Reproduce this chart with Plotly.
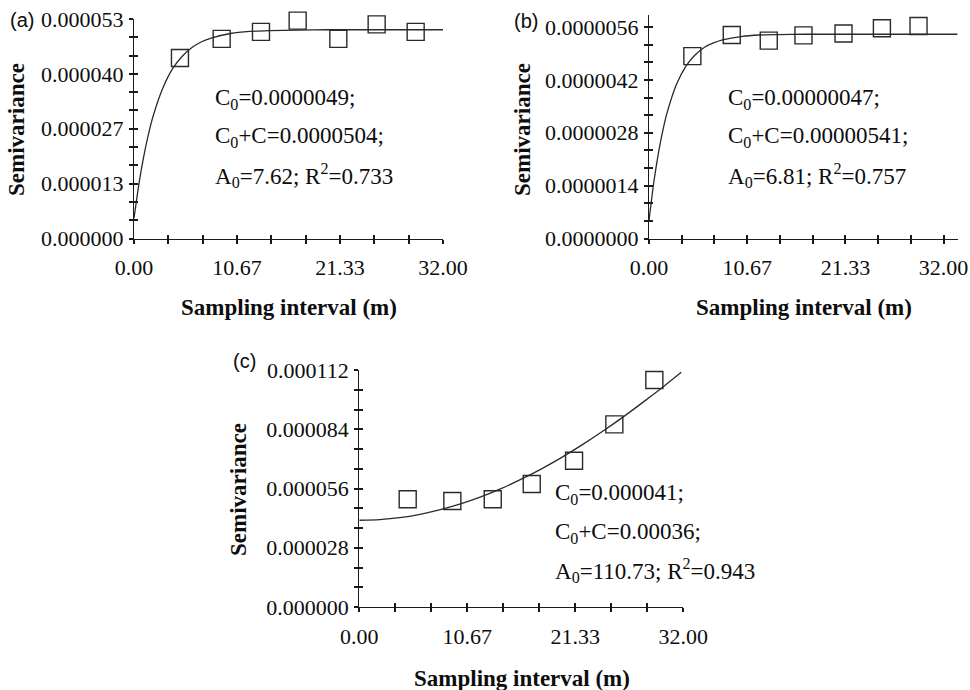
import plotly.graph_objects as go
import numpy as np

# ---------------- data ----------------
# Panel (a)
lag_a = [4.76, 9.08, 13.15, 16.95, 21.16, 25.13, 29.17]
gamma_a = [43.6e-6, 48.2e-6, 49.9e-6, 52.6e-6, 48.2e-6, 51.7e-6, 49.9e-6]
fit_h_a = [0, 0.5, 1, 1.5, 2, 3, 4, 5, 6, 7, 8, 10, 12, 14, 17, 20, 25, 32]
fit_g_a = [4.9e-6, 13.0e-6, 19.7e-6, 25.2e-6, 29.7e-6, 36.4e-6, 41.0e-6, 44.0e-6, 46.1e-6,
           47.5e-6, 48.4e-6, 49.5e-6, 50.0e-6, 50.2e-6, 50.3e-6, 50.4e-6, 50.4e-6, 50.4e-6]
text_a = ["C<sub>0</sub>=0.0000049;", "C<sub>0</sub>+C=0.0000504;", "A<sub>0</sub>=7.62; R<sup>2</sup>=0.733"]
yticks_a = ["0.000000", "0.000013", "0.000027", "0.000040", "0.000053"]

# Panel (b)
lag_b = [4.71, 8.99, 13.01, 16.78, 21.13, 25.30, 29.28]
gamma_b = [4.83e-6, 5.39e-6, 5.24e-6, 5.38e-6, 5.43e-6, 5.57e-6, 5.63e-6]
fit_h_b = [0, 0.5, 1, 1.5, 2, 3, 4, 5, 6, 7, 8, 10, 12, 14, 17, 20, 25, 33.5]
fit_g_b = [0.47e-6, 1.45e-6, 2.23e-6, 2.86e-6, 3.36e-6, 4.09e-6, 4.56e-6, 4.86e-6, 5.06e-6,
           5.18e-6, 5.26e-6, 5.35e-6, 5.39e-6, 5.40e-6, 5.41e-6, 5.41e-6, 5.41e-6, 5.41e-6]
text_b = ["C<sub>0</sub>=0.00000047;", "C<sub>0</sub>+C=0.00000541;", "A<sub>0</sub>=6.81; R<sup>2</sup>=0.757"]
yticks_b = ["0.0000000", "0.0000014", "0.0000028", "0.0000042", "0.0000056"]

# Panel (c)
lag_c = [4.78, 9.19, 13.18, 17.03, 21.21, 25.19, 29.14]
gamma_c = [50.9e-6, 50.1e-6, 50.9e-6, 58.1e-6, 69.1e-6, 86.3e-6, 107.3e-6]
fit_h_c = [0, 2, 4, 6, 8, 10, 12, 14, 16, 18, 20, 22, 24, 26, 28, 30, 31.8]
fit_g_c = [41.0e-6, 41.3e-6, 42.2e-6, 43.8e-6, 46.0e-6, 48.7e-6, 52.0e-6, 55.9e-6, 60.4e-6,
           65.3e-6, 70.7e-6, 76.6e-6, 82.9e-6, 89.6e-6, 96.7e-6, 104.0e-6, 110.9e-6]
text_c = ["C<sub>0</sub>=0.000041;", "C<sub>0</sub>+C=0.00036;", "A<sub>0</sub>=110.73; R<sup>2</sup>=0.943"]
yticks_c = ["0.000000", "0.000028", "0.000056", "0.000084", "0.000112"]

xticks = ["0.00", "10.67", "21.33", "32.00"]
panel_labels = ["(a)", "(b)", "(c)"]
x_title = "Sampling interval (m)"
y_title = "Semivariance"

# ---------------- layout geometry ----------------
W, H = 970, 690
def px(p):
    return p / W
def py(p):
    return 1 - p / H

SERIF = "Liberation Serif, Times New Roman, serif"
INK = "#1a1a1a"
TXT = "#0d0d0d"

panels = [
    dict(lag=lag_a, g=gamma_a, fh=fit_h_a, fg=fit_g_a, txt=text_a, ytl=yticks_a, ymaj=53e-6,
         xr=[0, 32], yr=[0, 53e-6], xd=[134, 443], yd=[19, 238.5],
         txt_x=213, txt_y=[99, 137, 176], ytitle=(17, 130), xtitle=(288.5, 308), lab=(8, 20)),
    dict(lag=lag_b, g=gamma_b, fh=fit_h_b, fg=fit_g_b, txt=text_b, ytl=yticks_b, ymaj=5.6e-6,
         xr=[0, 33.6], yr=[0, 5.92e-6], xd=[649, 958.3], yd=[15, 238.5],
         txt_x=726, txt_y=[99, 137, 176], ytitle=(523, 130), xtitle=(803.5, 308), lab=(512, 21)),
    dict(lag=lag_c, g=gamma_c, fh=fit_h_c, fg=fit_g_c, txt=text_c, ytl=yticks_c, ymaj=112e-6,
         xr=[0, 32], yr=[0, 112e-6], xd=[359.3, 683.3], yd=[370, 607],
         txt_x=553, txt_y=[494, 532.5, 570], ytitle=(238, 490), xtitle=(521.5, 678), lab=(231, 361)),
]

fig = go.Figure()
layout = dict(width=W, height=H, margin=dict(l=0, r=0, t=0, b=0, pad=0, autoexpand=False),
              paper_bgcolor="white", plot_bgcolor="rgba(0,0,0,0)", showlegend=False)
annotations = []

common = dict(showgrid=False, zeroline=False, fixedrange=True, ticklen=4, tickwidth=1.5,
              tickcolor=INK, tickmode="array", automargin=False)

for i, p in enumerate(panels):
    n = i + 1
    ov = i + 4
    xs = "" if n == 1 else str(n)
    xref, yref = "x" + xs, "y" + xs
    xov, yov = "x" + str(ov), "y" + str(ov)

    fig.add_trace(go.Scatter(x=p["fh"], y=p["fg"], mode="lines", xaxis=xref, yaxis=yref,
                             line=dict(color="#2a2a2a", width=1.3, shape="spline", smoothing=0.6),
                             hoverinfo="skip", cliponaxis=False))
    fig.add_trace(go.Scatter(x=p["lag"], y=p["g"], mode="markers", xaxis=xref, yaxis=yref,
                             cliponaxis=False,
                             marker=dict(symbol="square-open", size=17, color="#2a2a2a",
                                         line=dict(width=1.4, color="#2a2a2a"))))
    # empty trace so the overlay axes (inner half of the crossing ticks) get drawn
    fig.add_trace(go.Scatter(x=[None], y=[None], mode="markers", xaxis=xov, yaxis=yov,
                             hoverinfo="skip", showlegend=False))

    # ticks: 9 intervals on x (labels every 3rd), 12 intervals on y (labels every 3rd)
    xtv = list(np.arange(0, 10) * 32 / 9)
    xtt = [xticks[k // 3] if k % 3 == 0 else "" for k in range(10)]
    ytv = list(np.arange(0, 13) * p["ymaj"] / 12)
    ytt = [p["ytl"][k // 3] if k % 3 == 0 else "" for k in range(13)]

    xdom = [px(p["xd"][0]), px(p["xd"][1])]
    ydom = [py(p["yd"][1]), py(p["yd"][0])]

    layout["xaxis" + xs] = dict(common, domain=xdom, range=p["xr"], anchor=yref, tickvals=xtv,
                                ticktext=xtt, ticks="outside", showline=True, linecolor=INK,
                                linewidth=1.3, ticklabelstandoff=5,
                                tickfont=dict(family=SERIF, size=22, color=TXT))
    layout["yaxis" + xs] = dict(common, domain=ydom, range=p["yr"], anchor=xref, tickvals=ytv,
                                ticktext=ytt, ticks="outside", showline=True, linecolor=INK,
                                linewidth=1.3, ticklabelstandoff=1,
                                tickfont=dict(family=SERIF, size=22, color=TXT))
    layout["xaxis" + str(ov)] = dict(common, domain=xdom, range=p["xr"], anchor=yov,
                                     overlaying=xref, tickvals=xtv, ticks="inside",
                                     showticklabels=False, showline=False, side="bottom")
    layout["yaxis" + str(ov)] = dict(common, domain=ydom, range=p["yr"], anchor=xov,
                                     overlaying=yref, tickvals=ytv, ticks="inside",
                                     showticklabels=False, showline=False, side="left")

    for t, yy in zip(p["txt"], p["txt_y"]):
        annotations.append(dict(text=t, x=px(p["txt_x"]), y=py(yy), xref="paper", yref="paper",
                                xanchor="left", yanchor="middle", showarrow=False,
                                font=dict(family=SERIF, size=23, color=TXT)))
    annotations.append(dict(text="<b>" + y_title + "</b>", x=px(p["ytitle"][0]), y=py(p["ytitle"][1]),
                            xref="paper", yref="paper", xanchor="center", yanchor="middle",
                            textangle=-90, showarrow=False,
                            font=dict(family=SERIF, size=23, color=TXT)))
    annotations.append(dict(text="<b>" + x_title + "</b>", x=px(p["xtitle"][0]), y=py(p["xtitle"][1]),
                            xref="paper", yref="paper", xanchor="center", yanchor="middle",
                            showarrow=False, font=dict(family=SERIF, size=23, color=TXT)))
    annotations.append(dict(text=panel_labels[i], x=px(p["lab"][0]), y=py(p["lab"][1]),
                            xref="paper", yref="paper", xanchor="left", yanchor="middle",
                            showarrow=False,
                            font=dict(family="Liberation Sans, Arial, sans-serif", size=20, color=TXT)))

layout["annotations"] = annotations
fig.update_layout(**layout)
fig.write_html("out.html")
